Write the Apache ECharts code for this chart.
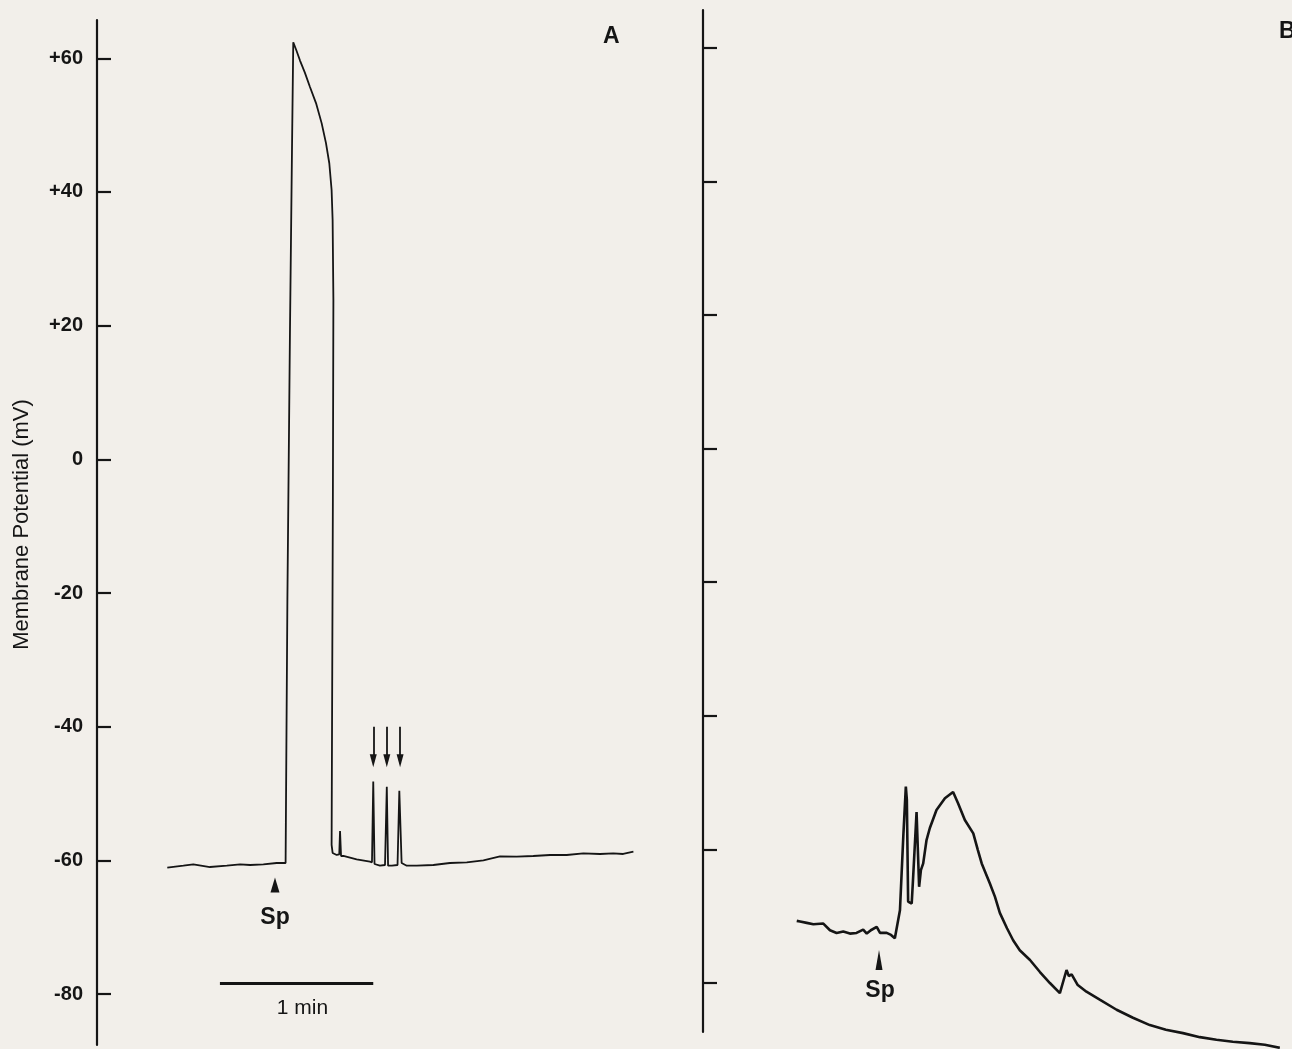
<!DOCTYPE html>
<html>
<head>
<meta charset="utf-8">
<script src="https://cdn.jsdelivr.net/npm/echarts@6/dist/echarts.min.js"></script>
<style>
html,body{margin:0;padding:0;background:#f2efea;}
#c{width:1292px;height:1049px;}
</style>
</head>
<body>
<div id="c"></div>
<script>
// Panel A trace: time (s) and membrane potential (mV)
const tA = [27.5,33.8,37.7,44.2,50.8,56.0,59.9,65.1,70.3,73.8,74.5,75.5,76.3,76.8,78.0,79.4,81.3,83.3,85.7,87.9,89.6,90.9,91.8,92.2,92.5,92.3,91.8,92.2,93.8,94.8,95.1,95.5,96.4,101.6,106.8,107.6,108.1,108.6,110.7,112.7,113.4,113.9,115.4,117.6,118.3,119.2,121.2,125.1,131.6,138.1,144.7,151.2,157.7,164.2,170.7,177.3,183.8,190.3,196.8,202.0,205.9,209.9];
const vA = [-61.1,-60.8,-60.6,-61.0,-60.8,-60.6,-60.7,-60.6,-60.4,-60.4,-21.0,18.9,46.3,62.4,61.2,59.7,57.9,55.75,53.3,50.3,47.3,44.3,40.3,35.8,23.8,-6.1,-57.7,-58.9,-59.2,-59.1,-55.6,-59.35,-59.35,-59.85,-60.2,-60.3,-48.2,-60.55,-60.8,-60.7,-49.0,-60.8,-60.8,-60.7,-49.6,-60.4,-60.8,-60.8,-60.7,-60.4,-60.3,-60.0,-59.4,-59.45,-59.35,-59.2,-59.2,-58.95,-59.05,-58.95,-59.05,-58.7];
// Panel B trace
const tB = [36.7,38.0,40.6,43.2,47.1,49.7,52.3,54.9,57.5,60.1,62.7,64.1,65.7,68.0,69.3,71.9,73.6,75.1,77.1,78.4,79.4,79.8,80.3,81.7,82.2,83.6,84.6,85.3,86.2,87.5,88.8,91.4,94.7,97.9,99.8,102.5,105.8,107.6,109.1,112.3,114.3,116.2,119.0,121.4,124.0,128.0,131.9,135.8,139.7,142.3,143.2,144.3,146.7,150.1,155.3,161.9,168.3,174.9,181.2,187.9,194.5,201.0,207.4,214.0,219.9,225.8];
const vB = [-70.7,-70.8,-71.0,-71.2,-71.1,-72.1,-72.5,-72.3,-72.6,-72.5,-72.0,-72.6,-72.1,-71.6,-72.5,-72.5,-72.8,-73.3,-69.1,-58.1,-50.6,-52.6,-67.8,-68.1,-64.6,-54.4,-65.6,-63.1,-62.1,-58.6,-56.8,-54.1,-52.35,-51.4,-53.05,-55.6,-57.6,-60.1,-62.1,-65.1,-67.1,-69.5,-71.8,-73.6,-75.1,-76.55,-78.35,-80.0,-81.5,-78.05,-78.95,-78.7,-80.3,-81.3,-82.5,-84.0,-85.2,-86.3,-87.0,-87.5,-88.1,-88.5,-88.8,-89.0,-89.25,-89.7];
// Y tick values (mV)
const yTicks = [-80,-60,-40,-20,0,20,40,60];
// Annotations (data coordinates)
const downArrowT = [108.1,113.4,118.6];
const downArrowTop = -40.0;
const downArrowHead = -45.1;
const spArrowA = [69.65,-63.7];
const spTextA = [69.65,-68.6];
const spArrowB = [68.9,-76.55];
const spTextB = [69.3,-81.1];
const scaleBar = {t0:48.1, t1:108.1, v:-78.4};
const scaleText = [80.4,-82.1];

const ink = '#151515';
const fam = 'Liberation Sans, Arial, sans-serif';
const pairs = (t,v)=>t.map((x,i)=>[x,v[i]]);

const chart = echarts.init(document.getElementById('c'), null, {renderer:'canvas'});

const yAxisBase = {
  type:'value',
  axisLine:{show:true, lineStyle:{color:ink, width:2.2}},
  axisTick:{show:true, inside:true, length:14, lineStyle:{color:ink, width:2.2}, customValues:yTicks},
  splitLine:{show:false}
};

chart.setOption({
  backgroundColor:'#f2efea',
  animation:false,
  grid:[
    {left:97, top:20, width:552, height:1025},
    {left:703, top:10, width:585, height:1022}
  ],
  xAxis:[
    {gridIndex:0, type:'value', min:0, max:216, show:false},
    {gridIndex:1, type:'value', min:0, max:229, show:false}
  ],
  yAxis:[
    Object.assign({}, yAxisBase, {
      gridIndex:0, min:-87.63, max:65.73,
      axisLabel:{show:true, customValues:yTicks, margin:14, color:ink, fontSize:20, fontWeight:'bold',
        fontFamily:fam,
        formatter:v=> v>0 ? '+'+v : String(v)},
      name:'Membrane Potential (mV)', nameLocation:'middle', nameRotate:90, nameGap:64,
      nameTextStyle:{color:ink, fontSize:22, fontFamily:fam, padding:[0,0,0,16]}
    }),
    Object.assign({}, yAxisBase, {
      gridIndex:1, min:-87.33, max:65.64,
      axisLabel:{show:false}
    })
  ],
  series:[
    {
      type:'line', xAxisIndex:0, yAxisIndex:0, data:pairs(tA,vA),
      symbol:'none', clip:false, lineStyle:{color:ink, width:1.8}, silent:true,
      markLine:{
        silent:true, symbol:'none', label:{show:false}, animation:false,
        data:[
          ...downArrowT.map(t=>[{coord:[t,downArrowTop], lineStyle:{color:ink,width:1.8,type:'solid'}},{coord:[t,downArrowHead+0.6]}]),
          [{coord:[scaleBar.t0,scaleBar.v], lineStyle:{color:ink,width:3.2,type:'solid'}},{coord:[scaleBar.t1,scaleBar.v]}]
        ]
      },
      markPoint:{
        silent:true, animation:false,
        data:[
          ...downArrowT.map(t=>({coord:[t,downArrowHead], symbol:'triangle', symbolSize:[7,13], symbolRotate:180, itemStyle:{color:ink}, label:{show:false}})),
          {coord:spArrowA, symbol:'triangle', symbolSize:[9,15], itemStyle:{color:ink}, label:{show:false}},
          {coord:spTextA, symbol:'circle', symbolSize:1, itemStyle:{color:'rgba(0,0,0,0)'},
            label:{show:true, position:'inside', formatter:'Sp', color:ink, fontSize:23, fontWeight:'bold', fontFamily:fam}},
          {coord:scaleText, symbol:'circle', symbolSize:1, itemStyle:{color:'rgba(0,0,0,0)'},
            label:{show:true, position:'inside', formatter:'1 min', color:ink, fontSize:21, fontFamily:fam}}
        ]
      }
    },
    {
      type:'line', xAxisIndex:1, yAxisIndex:1, data:pairs(tB,vB),
      symbol:'none', clip:false, lineStyle:{color:ink, width:2.6}, silent:true,
      markPoint:{
        silent:true, animation:false,
        data:[
          {coord:spArrowB, symbol:'triangle', symbolSize:[7,20], itemStyle:{color:ink}, label:{show:false}},
          {coord:spTextB, symbol:'circle', symbolSize:1, itemStyle:{color:'rgba(0,0,0,0)'},
            label:{show:true, position:'inside', formatter:'Sp', color:ink, fontSize:23, fontWeight:'bold', fontFamily:fam}}
        ]
      }
    }
  ],
  graphic:[
    {type:'text', left:603, top:25, style:{text:'A', fill:ink, font:'bold 23px "Liberation Sans", Arial, sans-serif'}},
    {type:'text', left:1279, top:20, style:{text:'B', fill:ink, font:'bold 23px "Liberation Sans", Arial, sans-serif'}}
  ]
});
</script>
</body>
</html>
